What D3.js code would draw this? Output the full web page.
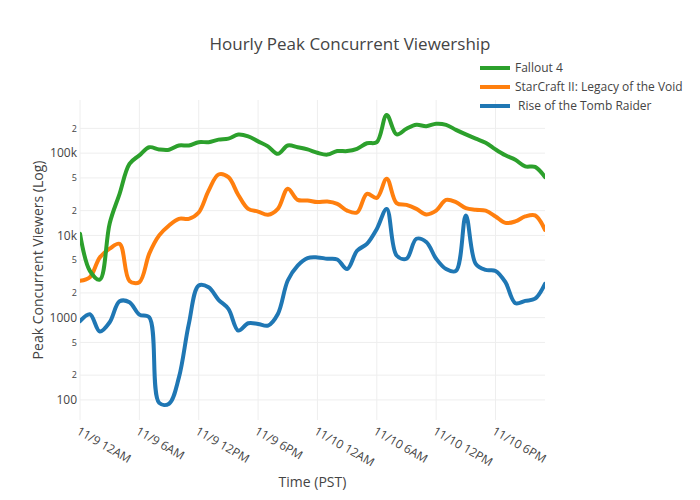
<!DOCTYPE html>
<html><head><meta charset="utf-8">
<script src="https://cdn.jsdelivr.net/npm/d3@7"></script>
<style>body{margin:0;background:#fff;} svg{font-family:"Open Sans",sans-serif;}</style>
</head><body><svg id="c" width="700" height="500"></svg>
<script>
const seriesNames = ["Fallout 4", "StarCraft II: Legacy of the Void", " Rise of the Tomb Raider"];
const seriesColors = ["#2ca02c", "#ff7f0e", "#1f77b4"];
const startTime = "2015-11-09T00:00:00";
const fallout4 = [10500, 3700, 2900, 14000, 32000, 74000, 94000, 118000, 111000, 110000, 124000, 124000, 136000, 136000, 146000, 150000, 168000, 160000, 139000, 121000, 98000, 124000, 118000, 111000, 101000, 96000, 106000, 106000, 113000, 132000, 136000, 290000, 169000, 198000, 221000, 213000, 228000, 221000, 192000, 169000, 150000, 134000, 111000, 94000, 83000, 69000, 68000, 51000];
const starcraft = [2800, 3100, 5400, 6900, 7900, 2800, 2700, 6000, 10000, 13200, 15900, 15900, 19000, 35000, 55000, 51000, 31000, 21000, 19500, 17800, 21000, 36900, 27000, 26600, 25400, 25800, 24200, 20000, 19000, 32000, 28600, 48800, 24700, 23500, 21000, 18000, 20000, 27000, 25400, 21400, 20500, 20000, 17000, 14200, 14800, 17000, 17500, 11700];
const tombRaider = [904, 1100, 678, 879, 1580, 1540, 1090, 1010, 92, 90, 188, 840, 2460, 2340, 1650, 1280, 697, 855, 840, 802, 1110, 2830, 4300, 5300, 5400, 5200, 5100, 3900, 6500, 7900, 12000, 21000, 5700, 5200, 9100, 8300, 5200, 3900, 3700, 17500, 4500, 3800, 3700, 2700, 1500, 1600, 1700, 2580];
const yTickValues = [100, 200, 500, 1000, 2000, 5000, 10000, 20000, 50000, 100000, 200000];
const yTickLabels = ["100", "2", "5", "1000", "2", "5", "10k", "2", "5", "100k", "2"];
const xTickLabels = ["11/9 12AM", "11/9 6AM", "11/9 12PM", "11/9 6PM", "11/10 12AM", "11/10 6AM", "11/10 12PM", "11/10 6PM"];

const allSeries = [fallout4, starcraft, tombRaider];
const t0 = new Date(startTime);
const hour = 3600 * 1000;
const times = fallout4.map((d, i) => new Date(t0.getTime() + i * hour));

const svg = d3.select("#c");
const L = 80, R = 545, T = 100, B = 420;
const x = d3.scaleTime().domain([times[0], times[times.length - 1]]).range([L, R]);
const y = d3.scaleLog().domain([Math.pow(10, 1.756), Math.pow(10, 5.646)]).range([B, T]);

// grid
const xTicks = xTickLabels.map((l, i) => new Date(t0.getTime() + i * 6 * hour));
svg.append("g").selectAll("line").data(xTicks).join("line")
  .attr("x1", d => x(d)).attr("x2", d => x(d)).attr("y1", T).attr("y2", B)
  .attr("stroke", "#eee").attr("stroke-width", 1);
svg.append("g").selectAll("line").data(yTickValues).join("line")
  .attr("x1", L).attr("x2", R).attr("y1", d => y(d)).attr("y2", d => y(d))
  .attr("stroke", "#eee").attr("stroke-width", 1);

// y tick labels
svg.append("g").selectAll("text").data(yTickValues).join("text")
  .attr("x", 77).attr("y", d => y(d)).attr("dy", "0.35em")
  .attr("text-anchor", "end").attr("fill", "#444")
  .attr("font-size", (d, i) => (yTickLabels[i].length === 1 ? 9 : 12))
  .text((d, i) => yTickLabels[i]);

// x tick labels
svg.append("g").selectAll("text").data(xTicks).join("text")
  .attr("transform", d => `translate(${x(d)},${B + 6}) rotate(30)`)
  .attr("dy", "0.71em").attr("text-anchor", "start").attr("fill", "#444").attr("font-size", 12)
  .text((d, i) => xTickLabels[i]);

// lines
const line = d3.line().x((d, i) => x(times[i])).y(d => y(d)).curve(d3.curveCatmullRom.alpha(0.5));
const drawOrder = [2, 1, 0];
const clip = svg.append("clipPath").attr("id", "clip").append("rect").attr("x", L).attr("y", T).attr("width", R - L).attr("height", B - T);
const lg = svg.append("g").attr("clip-path", "url(#clip)");
[1, 0, 2].forEach(k => {
  lg.append("path").attr("d", line(allSeries[k])).attr("fill", "none")
    .attr("stroke", seriesColors[k]).attr("stroke-width", 4).attr("stroke-linejoin", "round").attr("stroke-linecap", "round");
});

// title
svg.append("text").attr("x", 350).attr("y", 50).attr("text-anchor", "middle")
  .attr("fill", "#444").attr("font-size", 17).text("Hourly Peak Concurrent Viewership");
// axis titles
svg.append("text").attr("x", (L + R) / 2).attr("y", 487).attr("text-anchor", "middle")
  .attr("fill", "#444").attr("font-size", 14).text("Time (PST)");
svg.append("text").attr("transform", `translate(43,${(T + B) / 2}) rotate(-90)`).attr("text-anchor", "middle")
  .attr("fill", "#444").attr("font-size", 14).text("Peak Concurrent Viewers (Log)");

// legend
const leg = svg.append("g");
seriesNames.forEach((n, i) => {
  const yy = 68 + i * 19;
  leg.append("line").attr("x1", 480).attr("x2", 510).attr("y1", yy).attr("y2", yy)
    .attr("stroke", seriesColors[i]).attr("stroke-width", 4);
  leg.append("text").attr("x", 515).attr("y", yy).attr("dy", "0.35em").attr("fill", "#444")
    .attr("font-size", 12).attr("xml:space", "preserve").style("white-space", "pre").text(n);
});
</script></body></html>
